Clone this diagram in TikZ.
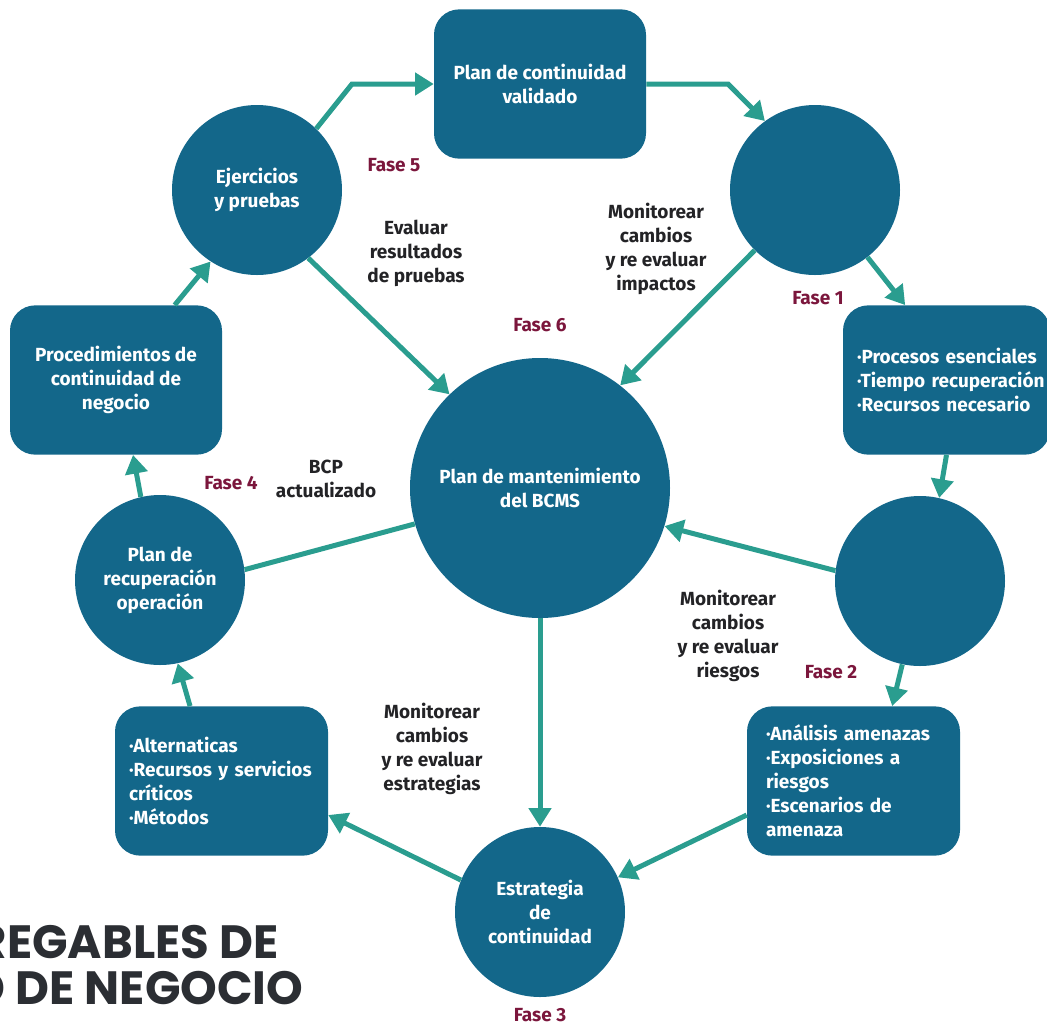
\documentclass[tikz,border=0pt]{standalone}
\usepackage{fontspec}
\setmainfont{Fira Sans}
\newfontfamily\titlefont{Poppins}
\usetikzlibrary{arrows.meta}

\definecolor{nodeblue}{RGB}{19,103,138}
\definecolor{linkteal}{RGB}{42,157,143}
\definecolor{phasered}{RGB}{123,22,60}
\definecolor{inkdark}{RGB}{35,35,38}
\definecolor{titlegray}{RGB}{43,46,51}

\hyphenpenalty=10000
\exhyphenpenalty=10000
\hbadness=10000
\hfuzz=40pt

\begin{document}
\begin{tikzpicture}[x=0.75pt,y=-0.75pt,
  every node/.style={font=\bfseries\fontsize{14.25}{18}\selectfont},
  roundnode/.style={circle,fill=nodeblue,text=white,minimum size=127.5pt,inner sep=0pt,align=center},
  hubnode/.style={roundnode,minimum size=195pt},
  boxnode/.style={rectangle,rounded corners=19pt,fill=nodeblue,text=white,align=center,
                  minimum width=159pt,minimum height=112pt,inner sep=0pt},
  listnode/.style={boxnode,align=left,inner xsep=#1},
  link/.style={draw=linkteal,line width=3.75pt,-{Triangle[length=14pt,width=16.5pt]}},
  plainlink/.style={draw=linkteal,line width=3.75pt},
  phase/.style={text=phasered},
  note/.style={text=inkdark,align=center}]

\useasboundingbox (0,0) rectangle (1047,1026);

% outer cycle nodes
\node[boxnode] (tb) at (540,84) {Plan de continuidad\\validado};
\node[roundnode] (f1) at (815,190) {};
\node[listnode=10.5pt,text width=134.25pt,minimum width=155.25pt] (pe) at (946.5,380)
  {\mbox{·Procesos esenciales}\\\mbox{·Tiempo recuperación}\\\mbox{·Recursos necesario}};
\node[roundnode] (f2) at (920,581) {};
\node[listnode=14.25pt,text width=131.25pt,minimum width=159.75pt] (an) at (853.5,781)
  {·Análisis amenazas\\·Exposiciones a\\riesgos\\·Escenarios de\\amenaza};
\node[roundnode] (es) at (540,912) {Estrategia\\de\\continuidad};
\node[listnode=10.5pt,text width=138.75pt,minimum width=159.75pt] (al) at (221.5,781)
  {·Alternaticas\\·Recursos y servicios\\críticos\\·Métodos};
\node[roundnode] (pr) at (160,580) {Plan de\\recuperación\\operación};
\node[boxnode] (pd) at (116,380) {Procedimientos de\\continuidad de\\negocio};
\node[roundnode] (ej) at (257,190) {Ejercicios\\y pruebas};

% central node
\node[hubnode] (bc) at (540,488) {Plan de mantenimiento\\del BCMS};

% bend points of the top connectors
\coordinate (k1) at (352,84);
\coordinate (k2) at (728,84);

% cycle connectors
\draw[link] (ej.46) -- (k1) -- (tb);
\draw[link] (tb) -- (k2) -- (f1.126);
\draw[link] (f1.-52) -- ([xshift=-31pt]pe.north);
\draw[link] (pe.south) -- (f2.77);
\draw[link] (f2.-102) -- ([xshift=29pt]an.north);
\draw[link] ([yshift=-25.5pt]an.west) -- (es.24);
\draw[link] (es.158) -- ([yshift=-25.5pt]al.east);
\draw[link] ([xshift=-23.6pt]al.north) -- (pr.-78);
\draw[link] (pr.103) -- ([xshift=12.75pt]pd.south);
\draw[link] ([xshift=44pt]pd.north) -- (ej.237);

% connectors to and from the centre
\draw[link] (ej.-53) -- (bc.134);
\draw[link] (f1.225) -- (bc.52);
\draw[link] (f2.173) -- (bc.-17);
\draw[link] (bc) -- (es);
\draw[plainlink] (bc.196) -- (pr.7);

% phase labels
\node[phase] (p5) at (394,165) {Fase 5};
\node[phase] (p1) at (818,298) {Fase 1};
\node[phase] (p6) at (540,325) {Fase 6};
\node[phase] (p4) at (231,483) {Fase 4};
\node[phase] (p2) at (831,672) {Fase 2};
\node[phase] (p3) at (540,1015) {Fase 3};

% connector notes
\node[note] (n1) at (416,253) {Evaluar\\resultados\\de pruebas};
\node[note] (n2) at (656,249) {Monitorear\\cambios\\y re evaluar\\impactos};
\node[note] (n3) at (326,479) {BCP\\actualizado};
\node[note] (n4) at (728,636) {Monitorear\\cambios\\y re evaluar\\riesgos};
\node[note] (n5) at (432,749) {Monitorear\\cambios\\y re evaluar\\estrategias};

% heading, running off the left edge
\node[anchor=base east,text=titlegray,font=\titlefont\bfseries\fontsize{35}{40}\selectfont]
  (h1) at (283,958) {REGABLES DE};
\node[anchor=base east,text=titlegray,font=\titlefont\bfseries\fontsize{35}{40}\selectfont]
  (h2) at (308,1004) {D DE NEGOCIO};
\end{tikzpicture}
\end{document}
